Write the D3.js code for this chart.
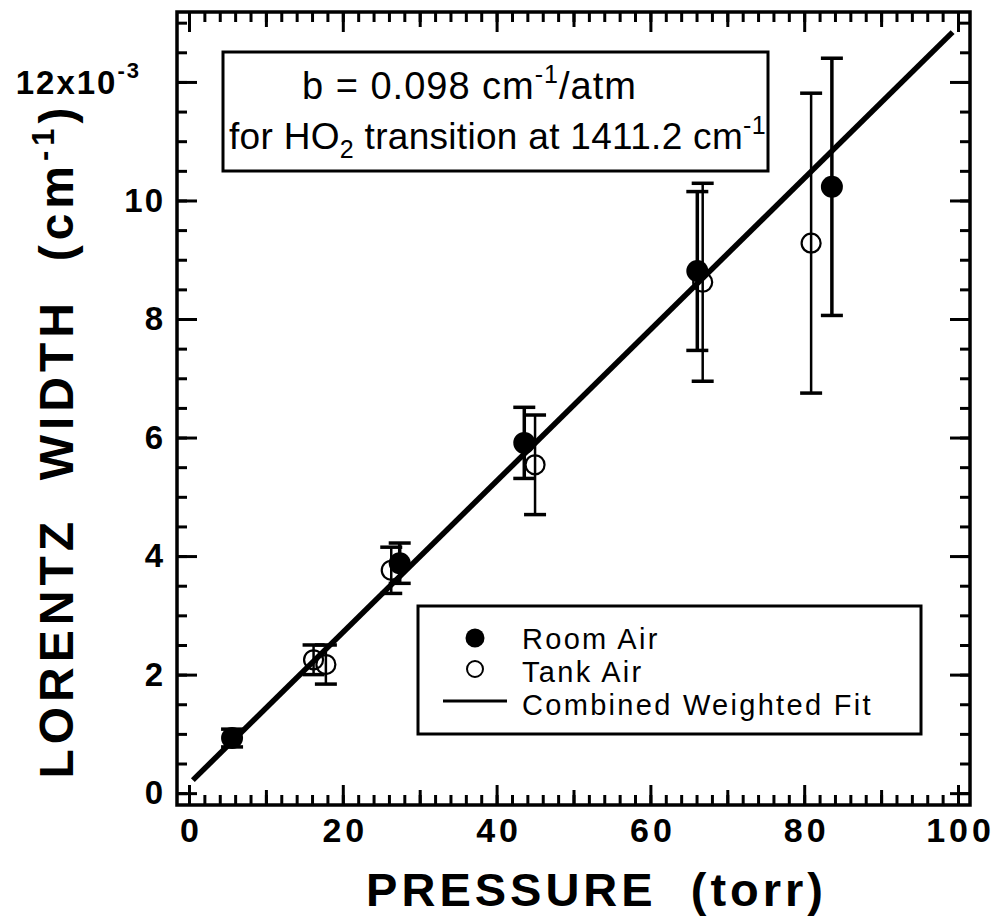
<!DOCTYPE html>
<html>
<head>
<meta charset="utf-8">
<script src="https://cdn.jsdelivr.net/npm/d3@7"></script>
<style>
  body { margin: 0; background: #fff; }
  svg { display: block; }
  text { font-family: "Liberation Sans", Arial, Helvetica, sans-serif; fill: #000; }
</style>
</head>
<body>
<div id="svg_container"></div>
<script>
/* -----------------------
data
------------------------- */

// room air (filled circles)
var roomP = [5.6, 27.4, 43.6, 66.1, 83.6];
var roomW = [0.93, 3.88, 5.91, 8.81, 10.23];
var roomErr = [0.15, 0.34, 0.6, 1.34, 2.17];

// tank air (open circles)
var tankP = [16.2, 17.8, 26.3, 45.0, 66.8, 80.9];
var tankW = [2.25, 2.17, 3.76, 5.54, 8.62, 9.28];
var tankErr = [0.25, 0.33, 0.39, 0.84, 1.67, 2.53];

// combined weighted fit, end points
var fitP = [0.5, 99.3];
var fitW = [0.22, 12.84];

var xTicks = [0, 20, 40, 60, 80, 100];
var yTicks = [0, 2, 4, 6, 8, 10, 12];
var legendLabels = ['Room Air', 'Tank Air', 'Combined Weighted Fit'];

/* -----------------------
main variables
------------------------- */

var width = 997, height = 920;
var margin = {top: 12, left: 177};
var plot_w = 793, plot_h = 793;

var c_ink = '#000';

var svg = d3.select('#svg_container')
  .append('svg')
  .attr('width', width)
  .attr('height', height);

var plot = svg.append('g')
  .attr('transform', 'translate(' + margin.left + ',' + margin.top + ')');

var x = d3.scaleLinear().domain([-1.56, 101.56]).range([0, plot_w]);
var y = d3.scaleLinear().domain([-0.2, 13.18]).range([plot_h, 0]);

/* -----------------------
axes
------------------------- */

var xMinor = d3.range(0, 101, 2);
var xMid = d3.range(10, 100, 20);
var yMinor = d3.range(0, 13.01, 0.5);

function styleAxis(g) {
  g.select('.domain').remove();
  g.selectAll('line').attr('stroke', c_ink).attr('stroke-width', 3);
}

// bottom
plot.append('g').attr('transform', 'translate(0,' + plot_h + ')')
  .call(d3.axisBottom(x).tickValues(xMinor).tickSize(-10).tickFormat('')).call(styleAxis);
plot.append('g').attr('transform', 'translate(0,' + plot_h + ')')
  .call(d3.axisBottom(x).tickValues(xMid).tickSize(-15).tickFormat('')).call(styleAxis);
var xAx = plot.append('g').attr('transform', 'translate(0,' + plot_h + ')')
  .call(d3.axisBottom(x).tickValues(xTicks).tickSize(-20).tickPadding(13)).call(styleAxis);
xAx.selectAll('text')
  .attr('font-size', 34).attr('font-weight', 'bold')
  .attr('letter-spacing', 4).attr('dx', 2);

// top
plot.append('g')
  .call(d3.axisTop(x).tickValues(xMinor).tickSize(-10).tickFormat('')).call(styleAxis);
plot.append('g')
  .call(d3.axisTop(x).tickValues(xMid).tickSize(-15).tickFormat('')).call(styleAxis);
plot.append('g')
  .call(d3.axisTop(x).tickValues(xTicks).tickSize(-20).tickFormat('')).call(styleAxis);

// left
plot.append('g')
  .call(d3.axisLeft(y).tickValues(yMinor).tickSize(-10).tickFormat('')).call(styleAxis);
var yAx = plot.append('g')
  .call(d3.axisLeft(y).tickValues(yTicks).tickSize(-20).tickPadding(12)
    .tickFormat(function(d) { return d === 12 ? '' : d; }))
  .call(styleAxis);
yAx.selectAll('text')
  .attr('font-size', 33).attr('font-weight', 'bold').attr('letter-spacing', 2);

// top label with exponent
var lab12 = plot.append('text')
  .attr('x', -36).attr('y', y(12) + 12)
  .attr('text-anchor', 'end')
  .attr('font-size', 33).attr('font-weight', 'bold').attr('letter-spacing', 2);
lab12.append('tspan').text('12x10');
lab12.append('tspan').attr('font-size', 22).attr('dy', -16).text('-3');

// right
plot.append('g').attr('transform', 'translate(' + plot_w + ',0)')
  .call(d3.axisRight(y).tickValues(yMinor).tickSize(-10).tickFormat('')).call(styleAxis);
plot.append('g').attr('transform', 'translate(' + plot_w + ',0)')
  .call(d3.axisRight(y).tickValues(yTicks).tickSize(-20).tickFormat('')).call(styleAxis);

// frame
plot.append('rect')
  .attr('x', 0).attr('y', 0).attr('width', plot_w).attr('height', plot_h)
  .attr('fill', 'none').attr('stroke', c_ink).attr('stroke-width', 3.5);

/* -----------------------
axis titles
------------------------- */

svg.append('text')
  .attr('x', margin.left + x(53)).attr('y', 906)
  .attr('text-anchor', 'middle')
  .attr('font-size', 47).attr('font-weight', 'bold').attr('letter-spacing', 4)
  .attr('xml:space', 'preserve')
  .text('PRESSURE  (torr)');

var yTitle = svg.append('text')
  .attr('transform', 'translate(73,' + (margin.top + y(5.95)) + ') rotate(-90)')
  .attr('text-anchor', 'middle')
  .attr('font-size', 48).attr('font-weight', 'bold').attr('letter-spacing', 5)
  .attr('xml:space', 'preserve');
yTitle.append('tspan').text('LORENTZ  WIDTH  (cm');
yTitle.append('tspan').attr('font-size', 31).attr('dy', -19).text('-1');
yTitle.append('tspan').attr('dy', 19).text(')');

/* -----------------------
fit line
------------------------- */

var line = d3.line().x(function(d) { return x(d[0]); }).y(function(d) { return y(d[1]); });
plot.append('path')
  .datum(d3.zip(fitP, fitW))
  .attr('d', line)
  .attr('fill', 'none').attr('stroke', c_ink).attr('stroke-width', 5.5);

/* -----------------------
error bars and points
------------------------- */

var capW = 11;

function errBars(P, W, E, sw) {
  var g = plot.append('g');
  var data = d3.range(P.length).map(function(i) { return {p: P[i], w: W[i], e: E[i]}; });
  g.selectAll('.bar').data(data).enter().append('line')
    .attr('x1', function(d) { return x(d.p); }).attr('x2', function(d) { return x(d.p); })
    .attr('y1', function(d) { return y(d.w + d.e); }).attr('y2', function(d) { return y(d.w - d.e); })
    .attr('stroke', c_ink).attr('stroke-width', sw);
  [1, -1].forEach(function(s) {
    g.selectAll('.cap' + s).data(data).enter().append('line')
      .attr('x1', function(d) { return x(d.p) - capW; }).attr('x2', function(d) { return x(d.p) + capW; })
      .attr('y1', function(d) { return y(d.w + s * d.e); }).attr('y2', function(d) { return y(d.w + s * d.e); })
      .attr('stroke', c_ink).attr('stroke-width', 3.5);
  });
}

errBars(tankP, tankW, tankErr, 2.5);
errBars(roomP, roomW, roomErr, 3.5);

plot.append('g').selectAll('circle')
  .data(d3.range(tankP.length)).enter().append('circle')
  .attr('cx', function(i) { return x(tankP[i]); })
  .attr('cy', function(i) { return y(tankW[i]); })
  .attr('r', 9.5)
  .attr('fill', 'none').attr('stroke', c_ink).attr('stroke-width', 2.2);

plot.append('g').selectAll('circle')
  .data(d3.range(roomP.length)).enter().append('circle')
  .attr('cx', function(i) { return x(roomP[i]); })
  .attr('cy', function(i) { return y(roomW[i]); })
  .attr('r', 11)
  .attr('fill', c_ink);

/* -----------------------
annotation box
------------------------- */

svg.append('rect')
  .attr('x', 223).attr('y', 52).attr('width', 545).attr('height', 119)
  .attr('fill', '#fff').attr('stroke', c_ink).attr('stroke-width', 3);

var t1 = svg.append('text').attr('x', 302).attr('y', 99).attr('font-size', 38)
  .attr('letter-spacing', 1).attr('xml:space', 'preserve');
t1.append('tspan').text('b = 0.098 cm');
t1.append('tspan').attr('font-size', 25).attr('dy', -16).text('-1');
t1.append('tspan').attr('dy', 16).text('/atm');

var t2 = svg.append('text').attr('x', 229).attr('y', 149).attr('font-size', 37)
  .attr('letter-spacing', 0.3);
t2.append('tspan').text('for HO');
t2.append('tspan').attr('font-size', 25).attr('dy', 9).text('2');
t2.append('tspan').attr('dy', -9).text(' transition at 1411.2 cm');
t2.append('tspan').attr('font-size', 25).attr('dy', -15).text('-1');

/* -----------------------
legend
------------------------- */

var lg = svg.append('g');
lg.append('rect')
  .attr('x', 418).attr('y', 606).attr('width', 503).attr('height', 128)
  .attr('fill', '#fff').attr('stroke', c_ink).attr('stroke-width', 3);

lg.append('circle').attr('cx', 475).attr('cy', 638).attr('r', 9.5).attr('fill', c_ink);
lg.append('circle').attr('cx', 475).attr('cy', 669).attr('r', 8)
  .attr('fill', 'none').attr('stroke', c_ink).attr('stroke-width', 2);
lg.append('line').attr('x1', 443).attr('x2', 507).attr('y1', 701).attr('y2', 701)
  .attr('stroke', c_ink).attr('stroke-width', 3);

lg.selectAll('.lab').data(legendLabels).enter().append('text')
  .attr('x', 522)
  .attr('y', function(d, i) { return 649 + i * 33; })
  .attr('font-size', 29).attr('letter-spacing', 2.3)
  .text(function(d) { return d; });
</script>
</body>
</html>
